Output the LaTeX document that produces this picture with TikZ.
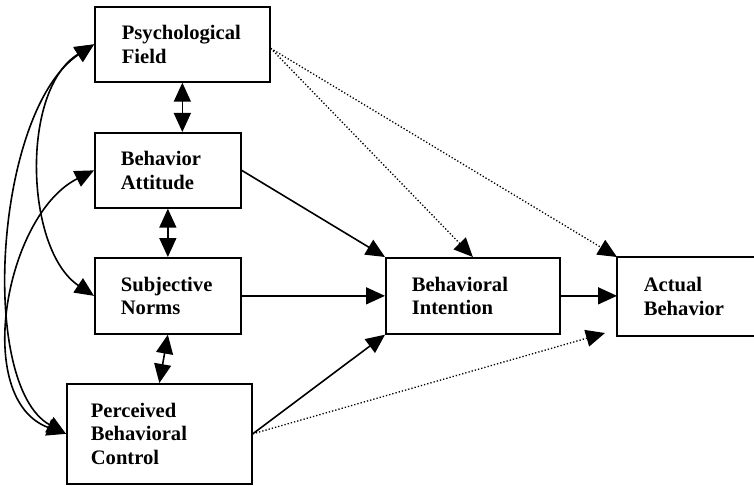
\documentclass[tikz,border=0pt]{standalone}
\usepackage{fontspec}
\setmainfont{Liberation Serif}
\usetikzlibrary{arrows.meta}
\begin{document}
\begin{tikzpicture}[x=1pt,y=-1pt,
  box/.style={draw, line width=1.7pt, anchor=north west, align=left, inner ysep=0pt,
    font=\fontsize{20.6}{23.5}\selectfont\bfseries},
  conn/.style={line width=1.6pt, -{Triangle[length=19pt,width=17pt]}},
  dconn/.style={line width=1.6pt, {Triangle[length=19pt,width=17pt]}-{Triangle[length=19pt,width=17pt]}},
  dotconn/.style={line width=1.3pt, dotted, -{Triangle[length=19pt,width=17pt]}}]
\useasboundingbox (0,0) rectangle (754,486);
% boxes
\node[box, text width=121pt, inner xsep=27pt, minimum height=75pt] (pf) at (94,6) {Psychological\\Field};
\node[box, text width=94pt, inner xsep=26pt, minimum height=75pt] (ba) at (94,132) {Behavior\\Attitude};
\node[box, text width=94pt, inner xsep=26pt, minimum height=76pt] (sn) at (94,257) {Subjective\\Norms};
\node[box, text width=137pt, inner xsep=24pt, minimum height=100pt] (pbc) at (66,383) {Perceived\\Behavioral\\Control};
\node[box, text width=122pt, inner xsep=26pt, minimum height=76pt] (bi) at (385,257) {Behavioral\\Intention};
\node[box, draw=none, text width=158pt, inner xsep=26pt, minimum height=77pt] (ab) at (617,257) {Actual\\Behavior};
\draw[line width=1.7pt] (ab.north east) -- (ab.north west) -- (ab.south west) -- (ab.south east);
\coordinate (abin) at (605,333);
% vertical double arrows
\draw[dconn] (pf.south) -- (pf.south |- ba.north);
\draw[dconn] (ba.south) -- (ba.south |- sn.north);
\draw[dconn] (sn.south) -- (pbc.north);
% left curves
\draw[dconn] (pf.west) .. controls (-5,110) and (-22,385) .. (pbc.west);
\draw[dconn] (pf.west) .. controls (20,90) and (25,250) .. (sn.west);
\draw[dconn] (ba.west) .. controls (5,215) and (-28,400) .. (pbc.west);
% solid arrows
\draw[conn] (ba.east) -- (bi.north west);
\draw[conn] (sn.east) -- (sn.east -| bi.west);
\draw[conn] (pbc.east) -- (bi.south west);
\draw[conn] (bi.east) -- (bi.east -| ab.west);
% dotted arrows
\draw[dotconn] ([yshift=-4pt]pf.east) -- (bi.north);
\draw[dotconn] ([yshift=-4pt]pf.east) -- (ab.north west);
\draw[dotconn] (pbc.east) -- (abin);
\end{tikzpicture}
\end{document}
